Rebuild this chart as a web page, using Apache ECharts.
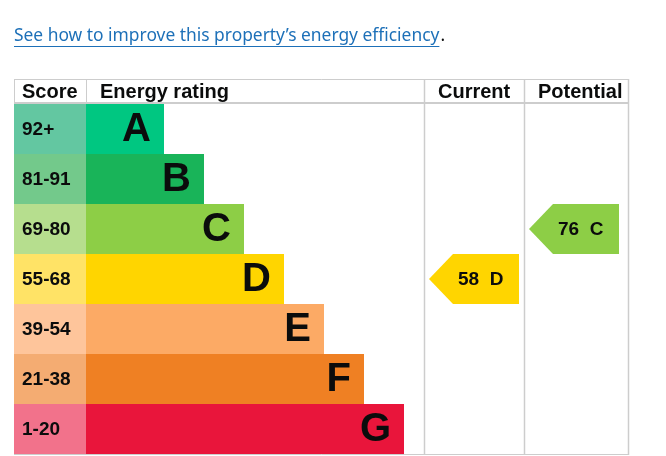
<!DOCTYPE html>
<html><head><meta charset="utf-8">
<script src="https://cdn.jsdelivr.net/npm/echarts@6/dist/echarts.min.js"></script>
<style>html,body{margin:0;padding:0;background:#fff}#c{width:666px;height:456px}</style>
</head><body><div id="c"></div>
<script>
// ---- data ----
const bands = ['A','B','C','D','E','F','G'];
const scoreRanges = ['92+','81-91','69-80','55-68','39-54','21-38','1-20'];
const bandMin = [92,81,69,55,39,21,1];
const headers = ['Score','Energy rating','Current','Potential'];
const ratingColumns = ['current','potential'];
const ratingScores = [58, 76];
const linkText = 'See how to improve this property\u2019s energy efficiency';

// ---- styles / layout ----
const bandColors = ['#00c781','#19b459','#8dce46','#ffd500','#fcaa65','#ef8023','#e9153b'];
const scoreColors = ['#63c7a1','#73c98b','#b6de8e','#ffe366','#fec59b','#f4ac72','#f2728b'];
const LINE = '#cdcdcd';
const TEXT = '#0b0c0c';
const FONT = '"Liberation Sans", Arial, sans-serif';
// column boundaries in table units (0..614)
const COL = {score:[0,72], rating:[72,410], current:[410,510], potential:[510,614]};
const barLen = i => 78 + 40 * i;
function bandOf(s){ for (let i=0;i<bandMin.length;i++) if (s>=bandMin[i]) return i; return bandMin.length-1; }

const chart = echarts.init(document.getElementById('c'), null, {renderer:'canvas'});

// underline width
const cv = document.createElement('canvas').getContext('2d');
const linkFont = '17.4px "Noto Sans", sans-serif';
cv.font = linkFont;
const linkW = cv.measureText(linkText).width;

const graphics = [
  {type:'text', left:14, top:27.5, style:{text:linkText, font:linkFont, fill:'#1d70b8'}},
  {type:'line', shape:{x1:14, y1:46.5, x2:14+linkW, y2:46.5}, style:{stroke:'#1d70b8', lineWidth:1}},
  {type:'text', left:14+linkW+1, top:27.5, style:{text:'.', font:linkFont, fill:TEXT}},
  // table lines
  {type:'line', shape:{x1:14, y1:79.5, x2:628.5, y2:79.5}, style:{stroke:LINE, lineWidth:1}},
  {type:'line', shape:{x1:14, y1:103, x2:628.5, y2:103}, style:{stroke:LINE, lineWidth:2}},
  {type:'line', shape:{x1:14, y1:454.5, x2:628.5, y2:454.5}, style:{stroke:LINE, lineWidth:1}},
  {type:'line', shape:{x1:14.5, y1:79, x2:14.5, y2:104}, style:{stroke:LINE, lineWidth:1}},
  {type:'line', shape:{x1:86.5, y1:79, x2:86.5, y2:104}, style:{stroke:LINE, lineWidth:1}},
  {type:'line', shape:{x1:424.5, y1:79, x2:424.5, y2:455}, style:{stroke:LINE, lineWidth:1.5}},
  {type:'line', shape:{x1:524.5, y1:79, x2:524.5, y2:455}, style:{stroke:LINE, lineWidth:1.5}},
  {type:'line', shape:{x1:628.5, y1:79, x2:628.5, y2:455}, style:{stroke:LINE, lineWidth:1.5}},
];
const headerX = [22, 100, 438, 538];
headers.forEach((h, k) => graphics.push({type:'text', x:headerX[k], y:92,
  style:{text:h, font:'bold 20px ' + FONT, fill:TEXT, verticalAlign:'middle'}}));

chart.setOption({
  animation:false,
  grid:{left:14, top:104, width:614, height:350},
  xAxis:{type:'value', min:0, max:614, show:false},
  yAxis:{type:'category', data:bands, inverse:true, show:false},
  graphic: graphics,
  series:[
    {
      type:'custom',
      data: bands.map((b,i)=>[0,i]),
      encode:{x:0, y:1},
      renderItem(params, api){
        const i = params.dataIndex;
        const yc = api.coord([0, i])[1];
        const h = api.size([0, 1])[1];
        const top = yc - h/2;
        const x0 = api.coord([COL.score[0], i])[0];
        const x1 = api.coord([COL.score[1], i])[0];
        const x2 = api.coord([COL.score[1] + barLen(i), i])[0];
        return {type:'group', children:[
          {type:'rect', shape:{x:x0, y:top, width:x1-x0, height:h}, style:{fill:scoreColors[i]}},
          {type:'rect', shape:{x:x1, y:top, width:x2-x1, height:h}, style:{fill:bandColors[i]}},
          {type:'text', style:{text:scoreRanges[i], x:x0+8, y:yc+1, verticalAlign:'middle', font:'bold 19px ' + FONT, fill:TEXT}},
          {type:'text', style:{text:bands[i], x:x2-13, y:yc+1, align:'right', verticalAlign:'middle', font:'bold 40px ' + FONT, fill:TEXT}}
        ]};
      }
    },
    {
      type:'custom',
      data: ratingScores.map((s,k)=>[s, bandOf(s)]),
      encode:{x:0, y:1},
      renderItem(params, api){
        const k = params.dataIndex;
        const s = ratingScores[k];
        const bi = bandOf(s);
        const c = COL[ratingColumns[k]];
        const yc = api.coord([0, bi])[1];
        const h = api.size([0, 1])[1];
        const top = yc - h/2, bot = yc + h/2;
        const tip = api.coord([c[0]+5, bi])[0];
        const notch = api.coord([c[0]+29, bi])[0];
        const right = api.coord([c[0]+95, bi])[0];
        return {type:'group', children:[
          {type:'polygon', shape:{points:[[tip,yc],[notch,top],[right,top],[right,bot],[notch,bot]]}, style:{fill:bandColors[bi]}},
          {type:'text', style:{text:s + '  ' + bands[bi], x:notch+5, y:yc+1, verticalAlign:'middle', font:'bold 19px ' + FONT, fill:TEXT}}
        ]};
      }
    }
  ]
});
</script>
</body></html>
